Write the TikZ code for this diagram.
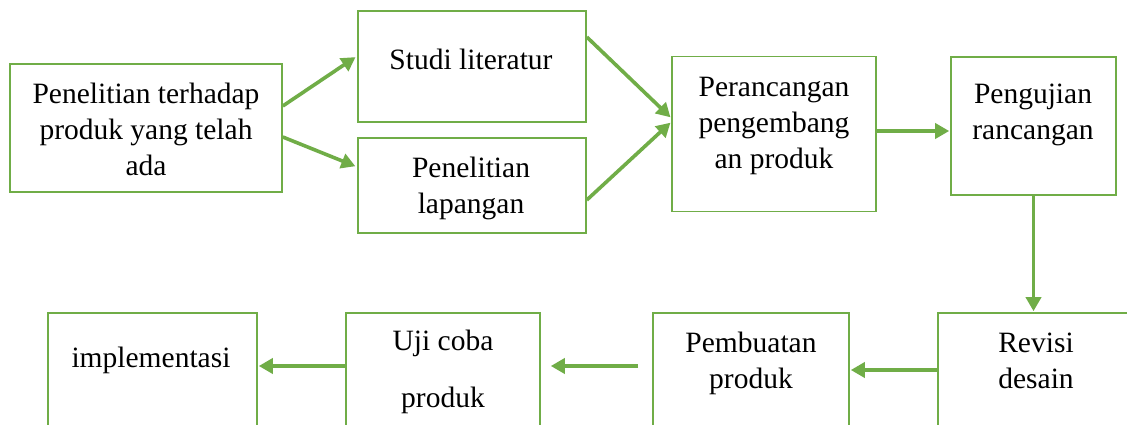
\documentclass[tikz,border=0pt]{standalone}
\usepackage{fontspec}
\setmainfont{Liberation Serif}
\usetikzlibrary{arrows.meta}
\definecolor{grn}{HTML}{70AD47}
\newcommand\mlines[1]{\begin{tabular}[t]{@{}c@{}}#1\end{tabular}}
\tikzset{
  box/.style={draw=grn, line width=1.6pt, rectangle, inner sep=0pt},
  txt/.style={anchor=base, inner sep=0pt, font=\fontsize{29.5}{36}\selectfont},
  arr/.style={draw=grn, line width=3.6pt, -{Triangle[length=14pt,width=15pt]}}
}
\begin{document}
\begin{tikzpicture}[x=1pt,y=-1pt]
\useasboundingbox (0,0) rectangle (1127,425);
\clip (0,0) rectangle (1127,425);
\fill[white] (0,0) rectangle (1127,425);
% boxes
\node[box, minimum width=272pt, minimum height=128pt] (b1) at (146,128) {};
\node[box, minimum width=228pt, minimum height=111pt] (studi) at (472,66.5) {};
\node[box, minimum width=228pt, minimum height=95pt] (lap) at (472,185.5) {};
\node[box, minimum width=204pt, minimum height=155pt] (per) at (774,134) {};
\node[box, minimum width=165pt, minimum height=138pt] (peng) at (1033.5,126) {};
\node[box, minimum width=196pt, minimum height=160pt] (rev) at (1036,393) {};
\node[box, minimum width=196pt, minimum height=160pt] (pemb) at (751,393) {};
\node[box, minimum width=194pt, minimum height=160pt] (uji) at (443,393) {};
\node[box, minimum width=209pt, minimum height=160pt] (impl) at (152.5,393) {};
% texts
\node[txt] (t1) at (146,104) {\mlines{Penelitian terhadap\\produk yang telah\\ada}};
\node[txt] (t2) at (471,70) {Studi literatur};
\node[txt] (t3) at (471,177) {\mlines{Penelitian\\lapangan}};
\node[txt] (t4) at (774,97) {\mlines{Perancangan\\pengembang\\an produk}};
\node[txt] (t5) at (1033,104) {\mlines{Pengujian\\rancangan}};
\node[txt] (t6) at (1036,352) {\mlines{Revisi\\desain}};
\node[txt] (t7) at (751,352) {\mlines{Pembuatan\\produk}};
\node[txt] (t8) at (443,350) {\mlines{Uji coba\\[21pt]produk}};
\node[txt] (t9) at (151,367) {implementasi};
% arrows
\draw[arr, shorten >=2pt] ([yshift=22pt]b1.east) -- ([yshift=10.5pt]studi.west);
\draw[arr, shorten >=2pt] ([yshift=-9pt]b1.east) -- ([yshift=18.5pt]lap.west);
\draw[arr, shorten >=1pt] ([yshift=29.5pt]studi.east) -- ([yshift=16pt]per.west);
\draw[arr, shorten >=1pt] ([yshift=-14.5pt]lap.east) -- ([yshift=12pt]per.west);
\draw[arr, shorten >=1pt] ([yshift=3pt]per.east) -- ([yshift=3pt]per.east -| peng.west);
\draw[arr, shorten >=1pt] (peng.south) -- (peng.south |- rev.north);
\draw[arr, shorten >=1pt] ([yshift=23pt]rev.west) -- ([yshift=23pt]rev.west -| pemb.east);
\draw[arr, shorten <=14pt, shorten >=10pt] ([yshift=27pt]pemb.west) -- ([yshift=27pt]pemb.west -| uji.east);
\draw[arr, shorten >=1pt] ([yshift=27pt]uji.west) -- ([yshift=27pt]uji.west -| impl.east);
\end{tikzpicture}
\end{document}
